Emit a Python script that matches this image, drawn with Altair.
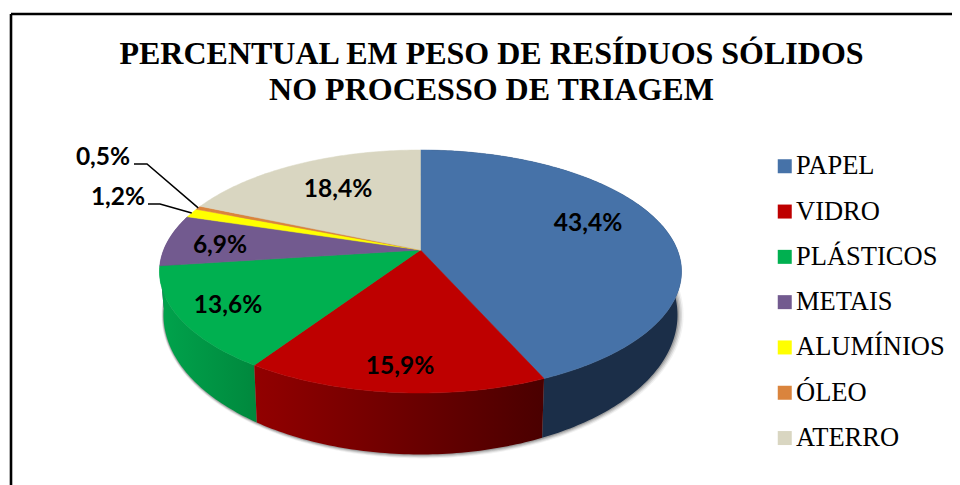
import numpy as np
import altair as alt

names = ["PAPEL", "VIDRO", "PLÁSTICOS", "METAIS", "ALUMÍNIOS", "ÓLEO", "ATERRO"]
values = [43.4, 15.9, 13.6, 6.9, 1.2, 0.5, 18.4]
labels = ["43,4%", "15,9%", "13,6%", "6,9%", "1,2%", "0,5%", "18,4%"]
colors = ["#4672A8", "#BE0000", "#00B050", "#725A8F", "#FFFF00", "#DA843D", "#D9D6C1"]
title_lines = ["PERCENTUAL EM PESO DE RESÍDUOS SÓLIDOS", "NO PROCESSO DE TRIAGEM"]

# perspective of the pie, in page pixels
OX, OY = 8, 8
CX, CY = 420.5, 250.0
K, A, B = -0.177, 256.9, 117.7
ELL_Y, ELL_RX, ELL_RY = 271.5, 261.0, 122.0
BOT_Y, BOT_RX, BOT_RY = 315.0, 257.0, 140.0


def top(pct):
    t = np.asarray(pct) / 100 * 2 * np.pi
    px, py = np.sin(t), -np.cos(t)
    d = 1 + K * py
    return CX + A * px / d, CY + B * py / d


def bottom(pct, extra=0.0):
    x, y = top(pct)
    return (CX + 0.5 * extra + (BOT_RX + extra) / ELL_RX * (x - CX),
            BOT_Y + (BOT_RY + extra) / ELL_RY * (y - ELL_Y))


def feature(xs, ys, name=""):
    ring = [[float(x - OX), float(-(y - OY))] for x, y in zip(xs, ys)]
    ring.append(ring[0])
    return {"type": "Feature", "name": name,
            "geometry": {"type": "Polygon", "coordinates": [ring]}}


def sweep(a, b):
    return np.linspace(a, b, max(3, int((b - a) * 4) + 2))


proj = dict(type="identity", reflectY=True, scale=1, translate=[0, 0])
edges = np.concatenate([[0], np.cumsum(values)])
edges[-1] = 100

layers = []

# soft shadow under the wall
whole = sweep(0, 100)
for extra, op in [(4.0, 0.08), (3.0, 0.14), (2.0, 0.2), (1.0, 0.3)]:
    sx, sy = bottom(whole, extra)
    layers.append(alt.Chart(alt.Data(values=[feature(sx, sy)])).mark_geoshape(
        fill="#555555", opacity=op, strokeWidth=0).project(**proj))

# side walls, back to front
wall_fill = {
    3: "#5A4470",
    0: "#1B2E48",
    2: alt.Gradient(gradient="linear", x1=0, x2=1, y1=0, y2=0,
                    stops=[alt.GradientStop(color="#00A34C", offset=0),
                           alt.GradientStop(color="#00883D", offset=1)]),
    1: alt.Gradient(gradient="linear", x1=0, x2=1, y1=0, y2=0,
                    stops=[alt.GradientStop(color="#920000", offset=0),
                           alt.GradientStop(color="#4A0000", offset=1)]),
}
for i, fill in wall_fill.items():
    s = sweep(edges[i], edges[i + 1])
    tx, ty = top(s)
    bx, by = bottom(s)
    f = feature(np.concatenate([tx, bx[::-1]]), np.concatenate([ty, by[::-1]]))
    layers.append(alt.Chart(alt.Data(values=[f])).mark_geoshape(
        fill=fill, strokeWidth=0).project(**proj))

# top face
faces = []
for i, n in enumerate(names):
    tx, ty = top(sweep(edges[i], edges[i + 1]))
    faces.append(feature(np.concatenate([[CX], tx]), np.concatenate([[CY], ty]), n))

scale = alt.Scale(domain=names, range=colors)
legend = alt.Legend(
    title=None, orient="none", legendX=771.5 - OX, legendY=153 - OY, direction="vertical",
    symbolType="square", symbolSize=196, symbolStrokeWidth=0, symbolOpacity=1,
    labelFont="Liberation Serif", labelFontSize=26.5, labelColor="#000000",
    labelOffset={"expr": "-2"}, rowPadding=18.3, labelLimit=300, padding=0,
)
layers.append(alt.Chart(alt.Data(values=faces)).mark_geoshape(strokeWidth=0.5, opacity=1).encode(
    color=alt.Color("name:N", scale=scale, legend=legend, sort=None),
    stroke=alt.Stroke("name:N", scale=scale, legend=None, sort=None),
).project(**proj))

# leader lines
leader_rows = []
for idx, (x0, x1, y) in {4: (148, 160, 204), 5: (134, 147, 164)}.items():
    ex, ey = top((edges[idx] + edges[idx + 1]) / 2)
    for o, (px, py) in enumerate([(x0, y), (x1, y), (float(ex), float(ey))]):
        leader_rows.append({"k": names[idx], "o": o, "px": px - OX, "py": py - OY})
layers.append(alt.Chart(alt.Data(values=leader_rows)).mark_line(color="#000000", strokeWidth=1.5).encode(
    x=alt.X("px:Q", scale=None), y=alt.Y("py:Q", scale=None), detail="k:N", order="o:Q"))

# percentage labels
label_at = [(588, 224), (400, 367), (228, 306), (220, 246), (118, 198), (103, 158), (338, 190)]
label_rows = [{"t": t, "px": x - OX, "py": y - OY} for t, (x, y) in zip(labels, label_at)]
layers.append(alt.Chart(alt.Data(values=label_rows)).mark_text(
    font="Lato", fontWeight="bold", fontSize=24.5, color="#000000", align="center", baseline="middle"
).encode(x=alt.X("px:Q", scale=None), y=alt.Y("py:Q", scale=None), text="t:N"))

# title
title_rows = [{"t": t, "px": 491.5 - OX, "py": y - OY} for t, y in zip(title_lines, (54, 90))]
layers.append(alt.Chart(alt.Data(values=title_rows)).mark_text(
    font="Liberation Serif", fontWeight="bold", fontSize=32, color="#000000", align="center", baseline="middle"
).encode(x=alt.X("px:Q", scale=None), y=alt.Y("py:Q", scale=None), text="t:N"))

# frame
layers.append(alt.Chart(alt.Data(values=[{"a": 0}])).mark_rule(color="#000000", strokeWidth=2.6).encode(
    x=alt.value(11 - OX), x2=alt.value(944), y=alt.value(14 - OY)))
layers.append(alt.Chart(alt.Data(values=[{"a": 0}])).mark_rule(color="#000000", strokeWidth=2.6).encode(
    x=alt.value(11 - OX), y=alt.value(14 - OY), y2=alt.value(477)))

chart = alt.layer(*layers).properties(
    width=944, height=477, padding=0, autosize=alt.AutoSizeParams(type="none"), background="white"
).configure_view(stroke=None)

chart.save("out.html", embed_options={"renderer": "svg", "actions": False})
